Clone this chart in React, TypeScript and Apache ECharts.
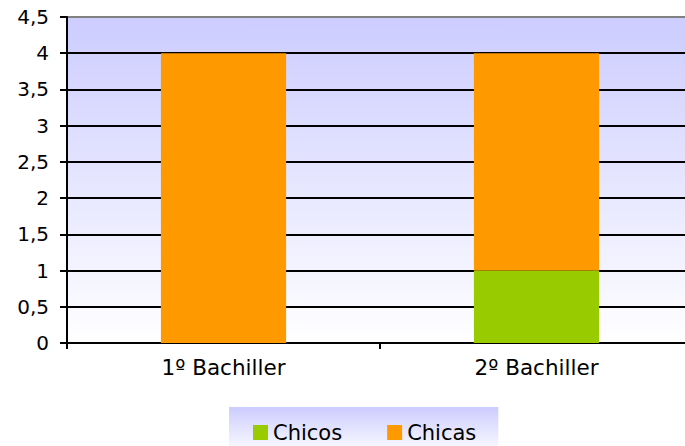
import React, { useEffect, useRef } from "react";
import * as echarts from "echarts";

const categories = ["1º Bachiller", "2º Bachiller"];
const chicos = [0, 1];
const chicas = [4, 3];
const seriesNames = ["Chicos", "Chicas"];
const yMin = 0;
const yMax = 4.5;
const yStep = 0.5;

export default function App() {
  const ref = useRef<HTMLDivElement>(null);
  useEffect(() => {
    document.body.style.margin = "0";
    const chart = echarts.init(ref.current!, null, { renderer: "svg" });
    const font = "'DejaVu Sans', Verdana, sans-serif";
    const splitColors = Array.from({ length: 10 }, (_, i) => (i === 9 ? "#808080" : "#000000"));
    chart.setOption({
      animation: false,
      grid: {
        left: 67,
        top: 17,
        width: 626,
        height: 326,
        show: true,
        borderWidth: 0,
        backgroundColor: new echarts.graphic.LinearGradient(0, 0, 0, 1, [
          { offset: 0, color: "#ccccff" },
          { offset: 1, color: "#ffffff" },
        ]),
      },
      legend: {
        left: 229,
        top: 407,
        padding: [15, 22, 12, 24],
        itemWidth: 15,
        itemHeight: 15,
        itemGap: 45,
        icon: "rect",
        backgroundColor: new echarts.graphic.LinearGradient(0, 0, 0, 1, [
          { offset: 0, color: "#ccccff" },
          { offset: 1, color: "#ffffff" },
        ]),
        textStyle: { fontFamily: font, fontSize: 21, color: "#000" },
        data: seriesNames,
      },
      xAxis: {
        type: "category",
        data: categories,
        axisLine: { lineStyle: { color: "#000", width: 2 } },
        axisTick: { show: true, length: 6, lineStyle: { color: "#000", width: 2 } },
        axisLabel: { fontFamily: font, fontSize: 21.5, color: "#000", margin: 13 },
      },
      yAxis: {
        type: "value",
        min: yMin,
        max: yMax,
        interval: yStep,
        axisLine: { show: true, lineStyle: { color: "#000", width: 2 } },
        axisTick: { show: true, length: 7, lineStyle: { color: "#000", width: 2 } },
        axisLabel: {
          fontFamily: font,
          fontSize: 20,
          color: "#000",
          margin: 18,
          formatter: (v: number) => String(v).replace(".", ","),
        },
        splitLine: { show: true, lineStyle: { color: splitColors, width: 2 } },
      },
      series: [
        {
          name: seriesNames[0],
          type: "bar",
          stack: "total",
          barWidth: "40%",
          itemStyle: { color: "#99cc00" },
          data: chicos,
        },
        {
          name: seriesNames[1],
          type: "bar",
          stack: "total",
          barWidth: "40%",
          itemStyle: { color: "#ff9900" },
          data: chicas,
        },
      ],
    });
    return () => chart.dispose();
  }, []);
  return (
    <div style={{ width: 685, height: 446, overflow: "hidden", position: "relative" }}>
      <div ref={ref} style={{ width: 710, height: 446 }} />
    </div>
  );
}
